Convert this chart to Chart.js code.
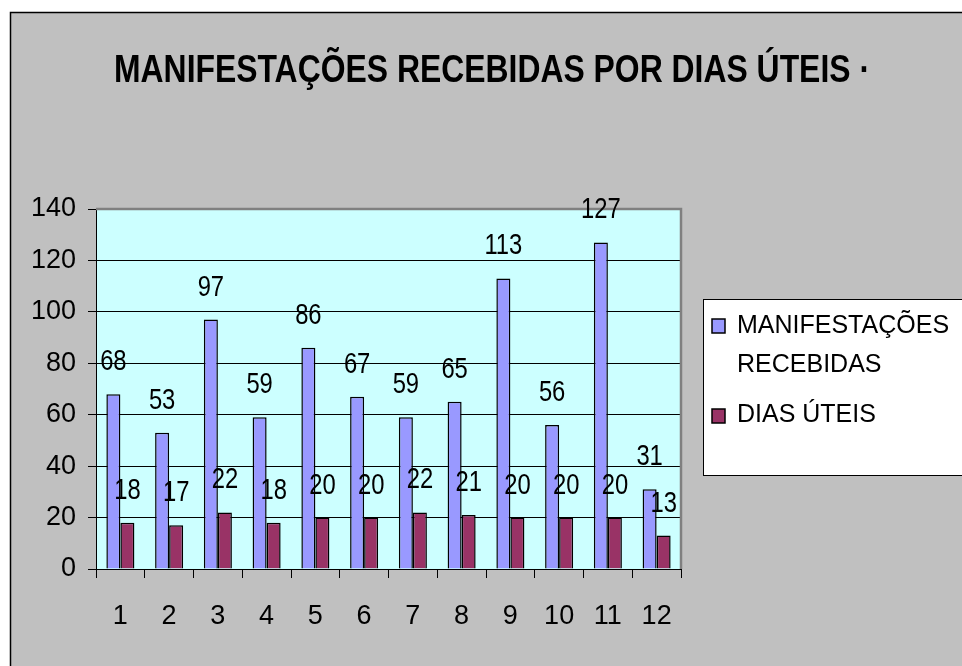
<!DOCTYPE html>
<html>
<head>
<meta charset="utf-8">
<script src="https://cdn.jsdelivr.net/npm/chart.js@4.4.1/dist/chart.umd.min.js"></script>
<style>
html, body { margin: 0; padding: 0; background: #fff; }
</style>
</head>
<body>
<canvas id="graph" width="962" height="666"></canvas>
<script>
// valeurs
const meses = ['1', '2', '3', '4', '5', '6', '7', '8', '9', '10', '11', '12'];
const manifestacoes = [68, 53, 97, 59, 86, 67, 59, 65, 113, 56, 127, 31];
const diasUteis = [18, 17, 22, 18, 20, 20, 22, 21, 20, 20, 20, 13];
const titulo = 'MANIFESTAÇÕES RECEBIDAS POR DIAS ÚTEIS ·';
const nomes = ['MANIFESTAÇÕES RECEBIDAS', 'DIAS ÚTEIS'];
const legendLines = [['MANIFESTAÇÕES', 'RECEBIDAS'], ['DIAS ÚTEIS']];
const cores = ['#9999ff', '#993366'];

const FONTE = '"Liberation Sans", Arial, sans-serif';
// pas de police étroite installée : on compresse le texte à la main
const ETROIT = 0.82;

var fond = {
    id: 'fond',
    beforeDraw: function (chart) {
        var ctx = chart.ctx;
        var w = chart.width, h = chart.height;
        var a = chart.chartArea;
        ctx.save();
        ctx.fillStyle = '#fff';
        ctx.fillRect(0, 0, w, h);
        ctx.fillStyle = '#c0c0c0';
        ctx.fillRect(10, 12, w, h);
        ctx.strokeStyle = '#000';
        ctx.lineWidth = 1.5;
        ctx.beginPath();
        ctx.moveTo(10.5, h);
        ctx.lineTo(10.5, 12.5);
        ctx.lineTo(w, 12.5);
        ctx.stroke();
        ctx.fillStyle = '#ccffff';
        ctx.fillRect(a.left, a.top, a.right - a.left, a.bottom - a.top);
        ctx.restore();
    },
    beforeDatasetsDraw: function (chart) {
        // bord gris du haut et de droite
        var ctx = chart.ctx;
        var a = chart.chartArea;
        ctx.save();
        ctx.strokeStyle = '#808080';
        ctx.lineWidth = 2.5;
        ctx.beginPath();
        ctx.moveTo(a.left, a.top);
        ctx.lineTo(a.right, a.top);
        ctx.lineTo(a.right, a.bottom);
        ctx.stroke();
        ctx.restore();
    }
};

function texteEtroit(ctx, txt, x, y) {
    ctx.save();
    ctx.translate(x, y);
    ctx.scale(ETROIT, 1);
    ctx.fillText(txt, 0, 0);
    ctx.restore();
}

var etiquettes = {
    id: 'etiquettes',
    afterDatasetsDraw: function (chart) {
        var ctx = chart.ctx;
        ctx.save();
        ctx.fillStyle = '#000';
        ctx.font = '29px ' + FONTE;
        ctx.textAlign = 'center';
        ctx.textBaseline = 'alphabetic';
        chart.data.datasets.forEach(function (ds, i) {
            var meta = chart.getDatasetMeta(i);
            meta.data.forEach(function (bar, j) {
                texteEtroit(ctx, String(ds.data[j]), bar.x, bar.y - 24);
            });
        });
        ctx.restore();
    },
    afterDraw: function (chart) {
        var ctx = chart.ctx;
        var w = chart.width;
        ctx.save();
        // titre
        ctx.fillStyle = '#000';
        ctx.font = 'bold 39px ' + FONTE;
        ctx.textAlign = 'left';
        ctx.textBaseline = 'alphabetic';
        var large = ctx.measureText(titulo).width;
        ctx.save();
        ctx.translate(114, 82);
        ctx.scale(756 / large, 1);
        ctx.fillText(titulo, 0, 0);
        ctx.restore();

        // légende
        ctx.fillStyle = '#fff';
        ctx.fillRect(703.5, 299.5, w, 176);
        ctx.strokeStyle = '#000';
        ctx.lineWidth = 1;
        ctx.strokeRect(703.5, 299.5, w, 176);
        var tops = [319, 409];
        var bases = [[333, 372], [422]];
        ctx.font = '25px ' + FONTE;
        for (var i = 0; i < legendLines.length; i++) {
            ctx.fillStyle = cores[i];
            ctx.fillRect(712, tops[i], 13, 14);
            ctx.lineWidth = 1.5;
            ctx.strokeRect(712, tops[i], 13, 14);
            ctx.fillStyle = '#000';
            for (var k = 0; k < legendLines[i].length; k++) {
                ctx.fillText(legendLines[i][k], 737, bases[i][k]);
            }
        }
        ctx.restore();
    }
};

new Chart(document.getElementById('graph'), {
    type: 'bar',
    data: {
        labels: meses,
        datasets: [{
                label: nomes[0],
                data: manifestacoes,
                backgroundColor: cores[0],
                borderColor: '#000',
                borderWidth: 1.5,
                categoryPercentage: 0.575,
                barPercentage: 1
            }, {
                label: nomes[1],
                data: diasUteis,
                backgroundColor: cores[1],
                borderColor: '#000',
                borderWidth: 1.5,
                categoryPercentage: 0.575,
                barPercentage: 1
            }]
    },
    options: {
        responsive: false,
        animation: false,
        devicePixelRatio: 1,
        layout: {
            padding: {left: 0, top: 209, right: 281, bottom: 0}
        },
        scales: {
            x: {
                offset: true,
                grid: {
                    offset: true,
                    drawOnChartArea: false,
                    color: '#000',
                    tickLength: 9
                },
                border: {color: '#000', width: 1},
                ticks: {
                    color: '#000',
                    font: {family: FONTE, size: 27},
                    padding: 22,
                    maxRotation: 0
                },
                afterFit: function (s) {
                    s.height = 97;
                }
            },
            y: {
                min: 0,
                max: 140,
                ticks: {
                    stepSize: 20,
                    color: '#000',
                    font: {family: FONTE, size: 27},
                    padding: 12
                },
                grid: {
                    color: function (c) {
                        return c.tick && c.tick.value === 140 ? 'rgba(0,0,0,0)' : '#000';
                    },
                    tickColor: '#000',
                    tickLength: 8
                },
                border: {color: '#000', width: 1},
                afterFit: function (s) {
                    s.width = 96;
                }
            }
        },
        plugins: {
            legend: {display: false},
            title: {display: false},
            tooltip: {enabled: false}
        }
    },
    plugins: [fond, etiquettes]
});
</script>
</body>
</html>
